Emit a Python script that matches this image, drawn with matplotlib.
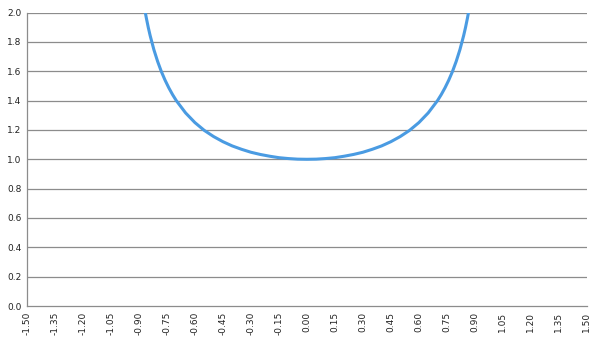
import numpy as np
import matplotlib
matplotlib.use("Agg")
import matplotlib.pyplot as plt

# Values (symmetric curve, y clipped at 2.0)
x_right = [0.00, 0.05, 0.10, 0.15, 0.20, 0.25, 0.30, 0.35, 0.40, 0.45, 0.50,
           0.55, 0.60, 0.65, 0.70, 0.72, 0.74, 0.76, 0.78, 0.80, 0.82, 0.84,
           0.85, 0.86, 0.866]
y_right = [1.000, 1.001, 1.005, 1.011, 1.021, 1.033, 1.048, 1.068, 1.091, 1.120, 1.155,
           1.197, 1.250, 1.316, 1.400, 1.441, 1.487, 1.539, 1.598, 1.667, 1.747, 1.843,
           1.898, 1.960, 2.000]

x_vals = [-v for v in x_right[::-1]] + x_right[1:]
y_vals = y_right[::-1] + y_right[1:]

x_ticks = [-1.50, -1.35, -1.20, -1.05, -0.90, -0.75, -0.60, -0.45, -0.30, -0.15, 0.00,
           0.15, 0.30, 0.45, 0.60, 0.75, 0.90, 1.05, 1.20, 1.35, 1.50]
y_ticks = [0.0, 0.2, 0.4, 0.6, 0.8, 1.0, 1.2, 1.4, 1.6, 1.8, 2.0]

plt.rcParams['font.family'] = ['DejaVu Sans']

fig = plt.figure(figsize=(6, 3.4), dpi=100)
ax = fig.add_axes([0.045, 0.1, 0.933, 0.863])

grid_color = '#8c8c8c'
for yv in y_ticks[1:]:
    ax.axhline(yv, color=grid_color, linewidth=0.9, zorder=1)

ax.plot(x_vals, y_vals, color='#4a9be2', linewidth=2.2, zorder=3)

ax.set_xlim(-1.5, 1.5)
ax.set_ylim(0, 2.0)
ax.set_xticks(x_ticks)
ax.set_xticklabels([f"{v:.2f}" for v in x_ticks], rotation=90, fontsize=6.5)
ax.set_yticks(y_ticks)
ax.set_yticklabels([f"{v:.1f}" for v in y_ticks], fontsize=6.5)
ax.tick_params(axis='both', length=0, pad=4, labelcolor='#222222')

for s in ['top', 'right']:
    ax.spines[s].set_visible(False)
for s in ['left', 'bottom']:
    ax.spines[s].set_color(grid_color)
    ax.spines[s].set_linewidth(0.9)

fig.savefig("out.png", dpi=100)
